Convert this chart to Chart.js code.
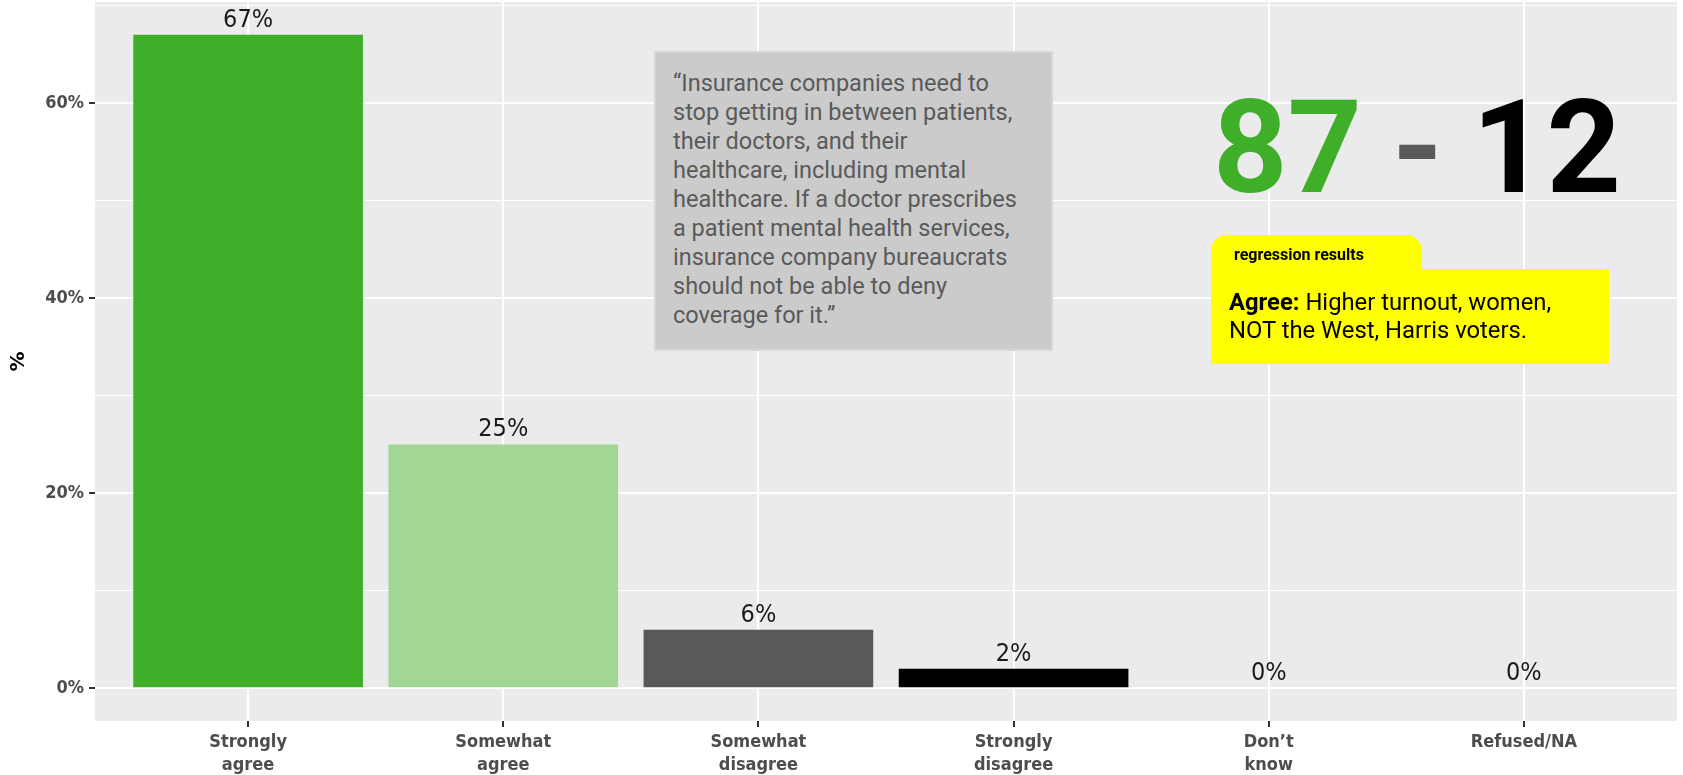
<!DOCTYPE html>
<html>
<head>
<meta charset="utf-8">
<script src="https://cdn.jsdelivr.net/npm/chart.js@4.4.1/dist/chart.umd.min.js"></script>
<style>
    html, body { margin: 0; padding: 0; background: #fff; }
    #wrap { position: relative; width: 1683px; height: 775px; overflow: hidden; }
    #chart { position: absolute; left: 0; top: 0; }
    .quote {
        position: absolute; left: 654px; top: 51px; width: 399px; height: 300px;
        box-sizing: border-box; background: #cbcbcb; border: 2px solid #d7d7d7;
        padding: 16px 0 0 17px;
        font-family: Roboto, sans-serif; font-size: 23.5px; line-height: 29px;
        color: #5a5a5a; white-space: nowrap;
    }
    .big { position: absolute; top: 83px; font-family: Roboto, sans-serif; font-weight: 700;
        font-size: 130px; line-height: 130px; white-space: nowrap; }
    .tab { position: absolute; left: 1211px; top: 235px; width: 211px; height: 40px;
        background: #ffff00; border-radius: 16px 16px 0 0; }
    .tab span { position: absolute; left: 23px; top: 10px; font-family: Roboto, sans-serif;
        font-weight: 700; font-size: 16px; color: #000; white-space: nowrap; }
    .note { position: absolute; left: 1211px; top: 269px; width: 398px; height: 95px;
        background: #ffff00; box-sizing: border-box; padding: 19px 0 0 18px;
        font-family: Roboto, sans-serif; font-size: 23.8px; line-height: 28px; color: #000; white-space: nowrap; }
</style>
</head>
<body>
<div id="wrap">
    <canvas id="chart" width="1683" height="775"></canvas>
    <div class="quote">“Insurance companies need to<br>stop getting in between patients,<br>their doctors, and their<br>healthcare, including mental<br>healthcare. If a doctor prescribes<br>a patient mental health services,<br>insurance company bureaucrats<br>should not be able to deny<br>coverage for it.”</div>
    <div class="big" style="left:1213px;color:#3fae29;">87</div>
    <div class="big" style="left:1392px;color:#595959;">-</div>
    <div class="big" style="left:1472px;color:#000;">12</div>
    <div class="tab"><span>regression results</span></div>
    <div class="note"><b>Agree:</b> Higher turnout, women,<br>NOT the West, Harris voters.</div>
</div>
<script>
// Données
const categories = ['Strongly\nagree', 'Somewhat\nagree', 'Somewhat\ndisagree', 'Strongly\ndisagree', 'Don’t\nknow', 'Refused/NA'];
const shares = [67, 25, 6, 2, 0, 0];
const majorTicks = [0, 20, 40, 60];
const minorTicks = [10, 30, 50, 70];

const barColors = ['#3fae29', '#a1d695', '#595959', '#000000', '#999999', '#bbbbbb'];

// Panel arka planı
const panelBg = {
    id: 'panelBg',
    beforeDraw(chart) {
        const { ctx, chartArea: a } = chart;
        ctx.save();
        ctx.fillStyle = '#ebebeb';
        ctx.fillRect(a.left, a.top, a.right - a.left, a.bottom - a.top);
        ctx.restore();
    }
};

// Çubuk üstü etiketler
const valueLabels = {
    id: 'valueLabels',
    afterDatasetsDraw(chart) {
        const { ctx, scales: { x, y } } = chart;
        ctx.save();
        ctx.font = '25px "DejaVu Sans Condensed"';
        ctx.fillStyle = '#1a1a1a';
        ctx.textAlign = 'center';
        ctx.textBaseline = 'alphabetic';
        shares.forEach((v, i) => {
            ctx.fillText(v + '%', x.getPixelForValue(i), y.getPixelForValue(v) - 8);
        });
        ctx.restore();
    }
};

const tickFont = { family: 'DejaVu Sans Condensed', weight: 'bold', size: 18, lineHeight: 1.28 };

new Chart(document.getElementById('chart'), {
    type: 'bar',
    data: {
        datasets: [{
            data: shares.map((v, i) => ({ x: i, y: v })),
            backgroundColor: barColors,
            barPercentage: 0.9,
            categoryPercentage: 1.0
        }]
    },
    options: {
        responsive: false,
        animation: false,
        layout: { padding: { top: 2, right: 6, left: 0, bottom: 0 } },
        plugins: { legend: { display: false }, tooltip: { enabled: false } },
        scales: {
            x: {
                type: 'linear',
                min: -0.6,
                max: 5.6,
                offset: false,
                afterBuildTicks: s => { s.ticks = categories.map((c, i) => ({ value: i })); },
                afterFit: s => { s.height = 54; s.paddingLeft = 0; s.paddingRight = 0; },
                border: { display: false },
                grid: { color: '#ffffff', lineWidth: 2, tickColor: '#333333', tickLength: 6, offset: false },
                ticks: {
                    callback: v => categories[v] ? categories[v].split('\n') : '',
                    color: '#4d4d4d',
                    font: tickFont,
                    padding: 4,
                    maxRotation: 0,
                    autoSkip: false
                }
            },
            y: {
                min: -3.35,
                max: 70.35,
                afterBuildTicks: s => {
                    s.ticks = majorTicks.concat(minorTicks).sort((a, b) => a - b).map(v => ({ value: v }));
                },
                afterFit: s => { s.width = 95; s.paddingTop = 0; s.paddingBottom = 0; },
                border: { display: false },
                grid: {
                    color: '#ffffff',
                    lineWidth: c => (c.tick && majorTicks.includes(c.tick.value)) ? 2 : 1,
                    tickColor: c => (c.tick && majorTicks.includes(c.tick.value)) ? '#333333' : 'rgba(0,0,0,0)',
                    tickLength: 6
                },
                ticks: {
                    callback: v => majorTicks.includes(v) ? v + '%' : '',
                    color: '#4d4d4d',
                    font: tickFont,
                    padding: 5,
                    autoSkip: false
                },
                title: {
                    display: true,
                    text: '%',
                    color: '#000',
                    font: { family: 'DejaVu Sans', weight: 'bold', size: 20, lineHeight: 1.2 },
                    padding: { top: 7, bottom: 0 }
                }
            }
        }
    },
    plugins: [panelBg, valueLabels]
});
</script>
</body>
</html>
